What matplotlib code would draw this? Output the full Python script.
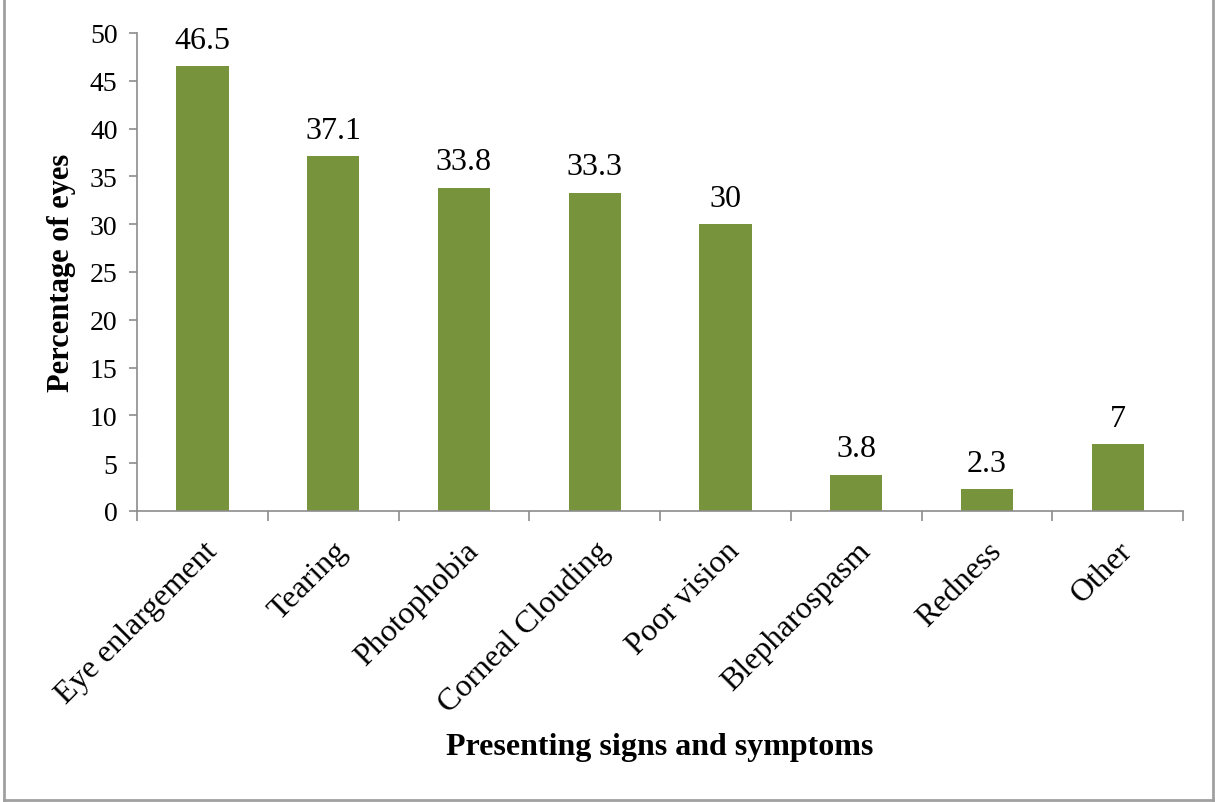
import matplotlib
matplotlib.use("Agg")
import matplotlib.pyplot as plt
from matplotlib.lines import Line2D

# Data
categories = ["Eye enlargement", "Tearing", "Photophobia", "Corneal Clouding",
              "Poor vision", "Blepharospasm", "Redness", "Other"]
values = [46.5, 37.1, 33.8, 33.3, 30, 3.8, 2.3, 7]
value_labels = ["46.5", "37.1", "33.8", "33.3", "30", "3.8", "2.3", "7"]
yticks = [0, 5, 10, 15, 20, 25, 30, 35, 40, 45, 50]

plt.rcParams['font.family'] = ['Liberation Serif', 'DejaVu Serif']

BAR_COLOR = "#77933C"
AXIS_COLOR = "#8c8c8c"

fig = plt.figure(figsize=(12.15, 8.03), dpi=100)
ax = fig.add_axes([0.1128, 0.3624, 0.8609, 0.5953])

x = list(range(len(categories)))
ax.bar(x, values, width=0.4, color=BAR_COLOR, zorder=2)

for xi, v, lab in zip(x, values, value_labels):
    ax.text(xi, v + 1.2, lab, ha="center", va="bottom", fontsize=23)

ax.set_xlim(-0.5, len(categories) - 0.5)
ax.set_ylim(0, 50)
ax.set_yticks(yticks)
ax.tick_params(axis="y", labelsize=20, length=6, width=1.2, color=AXIS_COLOR, pad=8)

# category ticks sit between bars
ax.set_xticks([i - 0.5 for i in range(len(categories) + 1)], minor=False)
ax.set_xticklabels([])
ax.tick_params(axis="x", length=7, width=1.2, color=AXIS_COLOR)
ax.set_xticks(x, minor=True)
ax.set_xticklabels(categories, minor=True, rotation=45, ha="right",
                   rotation_mode="anchor", fontsize=23)
ax.tick_params(axis="x", which="minor", length=0, pad=18)

for side in ["top", "right"]:
    ax.spines[side].set_visible(False)
for side in ["left", "bottom"]:
    ax.spines[side].set_color(AXIS_COLOR)
    ax.spines[side].set_linewidth(1.2)

ax.set_ylabel("Percentage of eyes", fontsize=22, fontweight="bold", labelpad=10)
fig.text(0.543, 0.069, "Presenting signs and symptoms", ha="center", va="center",
         fontsize=23, fontweight="bold")

# outer chart border
for xs, ys in [([0.003, 0.003], [0, 1]), ([0.998, 0.998], [0, 1]),
               ([0.003, 0.998], [0.003, 0.003])]:
    fig.add_artist(Line2D(xs, ys, color="#a0a0a0", lw=2, transform=fig.transFigure))

fig.savefig("out.png", dpi=100, facecolor="white")
